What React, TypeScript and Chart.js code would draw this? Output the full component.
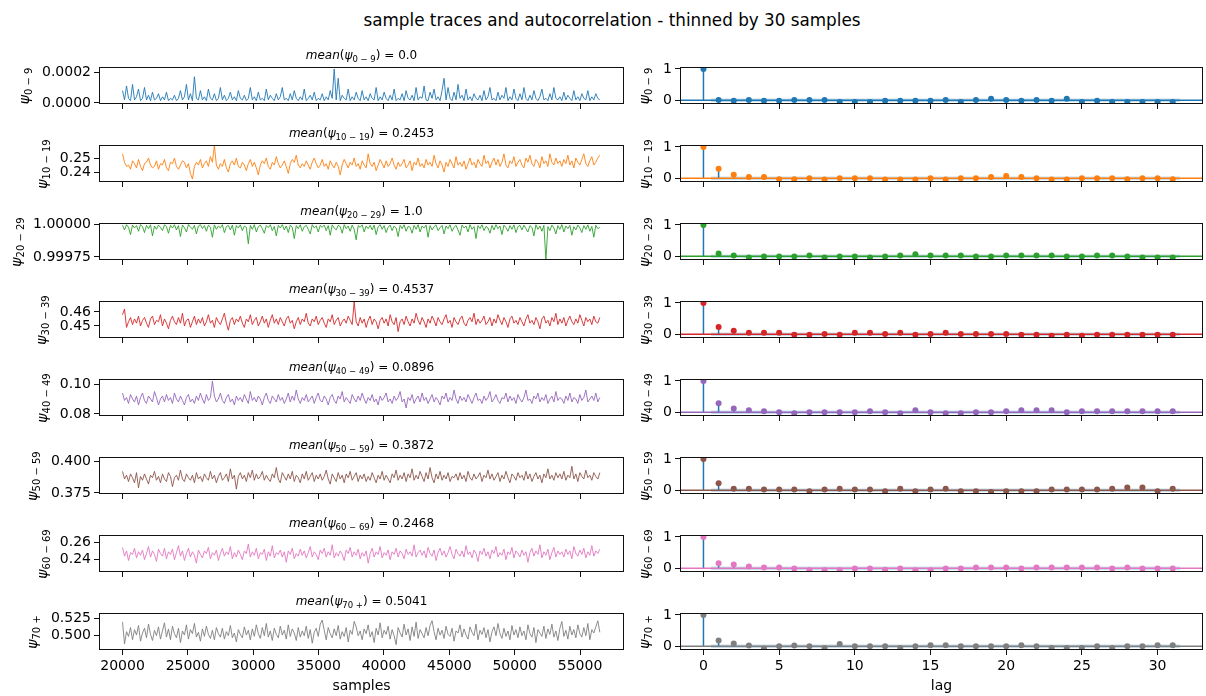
import React, { useEffect, useRef } from "react";
import { Chart, registerables } from "chart.js";

Chart.register(...registerables);

// ---------------- data ----------------
const SAMPLE_FIRST = 20000;
const SAMPLE_LAST = 56510;
const SAMPLE_TICKS = [20000, 25000, 30000, 35000, 40000, 45000, 50000, 55000];
const LAG_TICKS = [0, 5, 10, 15, 20, 25, 30];
const LAGS = [0, 1, 2, 3, 4, 5, 6, 7, 8, 9, 10, 11, 12, 13, 14, 15, 16, 17, 18, 19, 20, 21, 22, 23, 24, 25, 26, 27, 28, 29, 30, 31];

const GROUPS = ["0 − 9", "10 − 19", "20 − 29", "30 − 39", "40 − 49", "50 − 59", "60 − 69", "70 +"];
const MEANS = ["0.0", "0.2453", "1.0", "0.4537", "0.0896", "0.3872", "0.2468", "0.5041"];
const COLORS = ["#1f77b4", "#ff7f0e", "#2ca02c", "#d62728", "#9467bd", "#8c564b", "#e377c2", "#7f7f7f"];
const STEM_COLOR = "#1f77b4";

// trace of psi_{0-9}, in units of 1e-5
const TRACE_0_9_E5 = [
  8, 2, 11, 3, 1.5, 12, 2, 4, 9, 1.5, 3, 10, 2, 5, 1.5, 7, 2, 3, 6, 1.5,
  4, 2, 7, 1.5, 3, 2, 5, 1.5, 3, 8, 2, 4, 12, 2, 6, 1.5, 17, 3, 2, 8,
  2, 4, 1.5, 9, 3, 2, 6, 1.5, 3, 10, 2, 5, 1.5, 3, 7, 2, 4, 1.5, 8, 3,
  2, 5, 1.5, 3, 10, 2, 4, 1.5, 7, 2, 3, 1.5, 9, 2, 5, 3, 1.5, 6, 2, 4,
  10, 2, 3, 1.5, 6, 2, 8, 3, 1.5, 4, 2, 9, 1.5, 3, 5, 2, 7, 1.5, 3, 2,
  6, 1.5, 4, 2, 8, 3, 22, 2, 16, 1.5, 5, 3, 2, 9, 1.5, 4, 2, 7, 3, 1.5,
  8, 2, 4, 1.5, 6, 3, 2, 10, 1.5, 4, 2, 7, 3, 1.5, 5, 2, 9, 1.5, 3, 2,
  6, 1.5, 8, 3, 2, 5, 1.5, 10, 2, 4, 3, 11, 2, 1.5, 7, 3, 9, 2, 4, 1.5,
  8, 16, 2, 10, 3, 1.5, 7, 2, 12, 3, 5, 1.5, 9, 2, 4, 1.5, 6, 3, 2, 5,
  1.5, 8, 2, 4, 10, 2, 3, 1.5, 7, 2, 5, 3, 10, 1.5, 4, 2, 9, 3, 1.5, 6,
  2, 10, 3, 1.5, 5, 2, 8, 3, 1.5, 4, 9, 2, 3, 1.5, 6, 2, 10, 3, 2, 4,
  1.5, 7, 2, 5, 3, 1.5, 8, 2, 4, 1.5, 6, 3, 2, 8, 1.5, 4, 2, 6, 3, 2,
];
const TRACE_10_19 = [
  .253, .247, .244, .245, .242, .248, .246, .243, .249, .244, .241, .246, .247, .250, .245, .243, .244, .248, .242, .246,
  .245, .249, .243, .241, .247, .246, .250, .244, .242, .245, .248, .247, .243, .246, .239, .235, .244, .247, .245, .249,
  .243, .246, .248, .244, .251, .247, .259, .245, .242, .246, .244, .249, .243, .240, .246, .248, .245, .250, .244, .243,
  .247, .245, .241, .246, .249, .244, .247, .243, .238, .245, .248, .246, .250, .244, .242, .247, .245, .251, .246, .243,
  .245, .248, .244, .239, .246, .249, .247, .252, .245, .243, .246, .244, .248, .245, .242, .247, .250, .246, .243, .245,
  .249, .244, .246, .242, .248, .245, .243, .247, .244, .238, .245, .249, .246, .243, .247, .245, .250, .244, .246, .242,
  .248, .245, .243, .253, .246, .244, .247, .241, .245, .249, .246, .243, .248, .244, .246, .250, .245, .242, .247, .244,
  .246, .249, .243, .245, .248, .241, .247, .245, .250, .244, .246, .243, .249, .245, .247, .244, .252, .246, .243, .248,
  .245, .240, .247, .244, .249, .246, .243, .251, .245, .247, .244, .248, .242, .246, .250, .245, .247, .243, .249, .246,
  .244, .252, .246, .248, .243, .247, .250, .245, .249, .244, .247, .253, .245, .243, .248, .246, .251, .244, .247, .249,
  .245, .243, .250, .247, .252, .246, .244, .249, .247, .243, .251, .246, .248, .244, .253, .247, .245, .250, .246, .248,
  .244, .249, .246, .252, .245, .248, .243, .250, .247, .245, .249, .253, .246, .244, .248, .251, .245, .247, .250, .252,
];
// psi_{20-29}: distance below 1.0, in units of 1e-6
const TRACE_20_29_DEFICIT_E6 = [
  10, 45, 5, 25, 80, 8, 30, 12, 55, 4, 20, 65, 10, 35, 6, 90, 15, 40, 8, 25,
  50, 6, 18, 70, 10, 30, 5, 45, 12, 95, 8, 28, 60, 4, 22, 40, 10, 75, 15, 5,
  35, 12, 55, 8, 25, 100, 6, 40, 15, 30, 5, 65, 20, 10, 45, 8, 85, 12, 30, 6,
  50, 15, 25, 150, 10, 40, 5, 60, 20, 8, 35, 70, 12, 28, 6, 50, 18, 90, 10, 30,
  5, 45, 15, 65, 8, 25, 110, 12, 35, 6, 55, 20, 10, 40, 75, 5, 30, 15, 60, 10,
  25, 8, 50, 12, 85, 6, 30, 45, 10, 20, 70, 5, 35, 15, 55, 8, 40, 120, 12, 25,
  6, 60, 15, 35, 10, 45, 8, 80, 20, 5, 40, 12, 65, 25, 8, 50, 15, 30, 95, 10,
  35, 6, 55, 18, 25, 70, 10, 40, 5, 60, 15, 30, 8, 100, 12, 45, 20, 6, 50, 28,
  10, 75, 15, 35, 6, 55, 25, 10, 45, 85, 8, 30, 15, 60, 5, 40, 20, 110, 12, 35,
  6, 50, 18, 30, 70, 10, 45, 5, 35, 15, 80, 8, 28, 55, 12, 40, 6, 65, 20, 10,
  45, 8, 35, 60, 12, 25, 90, 6, 40, 15, 55, 10, 270, 20, 50, 8, 30, 75, 12, 40,
  5, 60, 15, 35, 10, 85, 20, 45, 8, 30, 65, 12, 40, 6, 55, 18, 100, 10, 35, 25,
];
const TRACE_30_39 = [
  .458, .462, .449, .453, .456, .451, .455, .452, .457, .450, .454, .456, .452, .449, .455, .457, .451, .454, .453, .458,
  .450, .455, .452, .448, .454, .457, .453, .451, .456, .452, .459, .450, .454, .455, .449, .453, .457, .451, .455, .452,
  .456, .450, .453, .458, .452, .454, .449, .456, .453, .451, .455, .459, .452, .447, .454, .456, .451, .455, .453, .457,
  .452, .449, .455, .453, .458, .451, .454, .456, .450, .453, .457, .452, .455, .449, .454, .458, .452, .455, .451, .456,
  .453, .450, .455, .457, .452, .454, .448, .453, .456, .451, .455, .453, .459, .452, .450, .455, .453, .457, .451, .454,
  .456, .452, .449, .455, .453, .458, .451, .454, .456, .450, .453, .455, .452, .457, .454, .451, .467, .453, .450, .456,
  .452, .455, .449, .454, .457, .451, .455, .453, .448, .454, .456, .452, .455, .450, .458, .453, .451, .456, .446, .453,
  .455, .451, .457, .453, .450, .455, .452, .459, .454, .451, .456, .453, .449, .455, .452, .457, .454, .450, .456, .453,
  .451, .455, .458, .452, .454, .449, .456, .453, .451, .455, .457, .452, .450, .454, .456, .453, .459, .451, .455, .452,
  .454, .457, .451, .453, .456, .450, .455, .452, .458, .454, .451, .456, .453, .449, .455, .457, .452, .454, .451, .456,
  .453, .450, .455, .458, .452, .454, .451, .456, .453, .448, .455, .457, .452, .454, .450, .456, .453, .459, .451, .455,
  .452, .456, .450, .454, .457, .453, .451, .455, .452, .458, .454, .450, .456, .453, .455, .451, .457, .453, .452, .456,
];
const TRACE_40_49 = [
  .094, .089, .091, .087, .093, .090, .088, .092, .086, .091, .094, .089, .087, .092, .090, .088, .095, .091, .086, .090,
  .092, .088, .093, .089, .091, .087, .094, .090, .088, .092, .089, .086, .091, .093, .088, .090, .087, .092, .089, .094,
  .090, .087, .093, .089, .091, .102, .092, .088, .090, .094, .089, .087, .091, .093, .088, .090, .086, .092, .089, .091,
  .088, .093, .090, .087, .095, .089, .091, .088, .092, .090, .086, .091, .094, .089, .087, .092, .090, .088, .093, .089,
  .091, .087, .090, .094, .088, .092, .089, .096, .090, .087, .091, .089, .093, .088, .090, .092, .087, .091, .094, .089,
  .088, .092, .090, .086, .091, .093, .089, .087, .092, .090, .095, .088, .091, .089, .087, .093, .090, .088, .092, .089,
  .094, .090, .087, .091, .089, .093, .088, .090, .086, .092, .089, .091, .094, .088, .090, .087, .092, .089, .091, .095,
  .088, .090, .084, .091, .089, .093, .087, .090, .092, .088, .094, .089, .091, .087, .090, .093, .088, .091, .089, .086,
  .092, .090, .094, .088, .091, .089, .096, .090, .087, .092, .089, .091, .088, .093, .090, .087, .091, .094, .089, .090,
  .087, .092, .089, .091, .095, .088, .090, .093, .089, .087, .091, .090, .094, .088, .092, .089, .091, .087, .093, .090,
  .088, .091, .096, .089, .090, .087, .092, .090, .094, .088, .091, .089, .093, .087, .090, .092, .088, .095, .089, .091,
  .090, .087, .092, .089, .094, .088, .091, .090, .087, .093, .089, .091, .096, .088, .090, .092, .089, .094, .088, .091,
];
const TRACE_50_59 = [
  .392, .386, .389, .384, .390, .387, .383, .391, .379, .388, .385, .390, .386, .382, .389, .387, .392, .385, .388, .383,
  .390, .386, .384, .391, .388, .380, .387, .389, .385, .393, .386, .384, .390, .387, .385, .389, .383, .391, .386, .388,
  .384, .390, .387, .385, .392, .386, .389, .383, .388, .391, .385, .387, .390, .384, .394, .386, .389, .378, .388, .391,
  .386, .389, .384, .391, .387, .393, .385, .390, .386, .388, .392, .385, .389, .386, .384, .390, .387, .395, .386, .383,
  .391, .388, .385, .390, .386, .392, .384, .389, .387, .383, .390, .386, .392, .385, .388, .391, .384, .389, .386, .390,
  .385, .388, .393, .386, .382, .390, .387, .384, .391, .386, .389, .383, .390, .387, .392, .385, .388, .391, .384, .389,
  .386, .390, .384, .388, .385, .391, .387, .383, .389, .386, .392, .385, .389, .386, .383, .390, .387, .393, .385, .389,
  .386, .391, .384, .390, .387, .394, .385, .389, .386, .392, .388, .384, .391, .386, .395, .387, .383, .390, .386, .392,
  .385, .389, .386, .391, .384, .388, .387, .390, .385, .391, .386, .389, .384, .392, .387, .385, .390, .386, .388, .391,
  .384, .389, .387, .393, .386, .390, .385, .388, .391, .384, .389, .386, .392, .387, .383, .390, .388, .385, .391, .387,
  .389, .385, .392, .386, .390, .384, .388, .391, .386, .389, .383, .390, .387, .394, .386, .389, .385, .391, .387, .390,
  .386, .392, .385, .389, .387, .396, .386, .390, .384, .391, .388, .386, .393, .387, .389, .385, .391, .388, .386, .391,
];
const TRACE_60_69 = [
  .254, .244, .250, .239, .248, .246, .253, .242, .249, .245, .251, .240, .247, .255, .243, .250, .246, .238, .252, .247,
  .244, .253, .241, .249, .246, .252, .240, .248, .256, .244, .250, .239, .247, .253, .243, .249, .245, .236, .251, .246,
  .242, .250, .247, .254, .241, .248, .245, .251, .239, .247, .253, .244, .249, .246, .255, .241, .248, .243, .251, .246,
  .240, .250, .247, .258, .243, .249, .245, .253, .241, .248, .246, .252, .239, .249, .244, .256, .242, .248, .246, .251,
  .243, .249, .237, .250, .246, .253, .241, .247, .244, .252, .245, .250, .242, .248, .255, .243, .249, .246, .240, .251,
  .247, .253, .243, .249, .245, .257, .242, .248, .244, .250, .246, .239, .251, .247, .254, .243, .249, .245, .252, .241,
  .248, .244, .250, .236, .247, .253, .243, .249, .246, .255, .242, .248, .245, .251, .240, .249, .246, .253, .243, .250,
  .247, .241, .252, .246, .249, .244, .257, .243, .248, .251, .245, .250, .242, .254, .247, .244, .251, .239, .248, .253,
  .245, .250, .243, .248, .255, .246, .241, .252, .247, .244, .250, .243, .256, .246, .249, .242, .251, .247, .238, .250,
  .246, .253, .244, .249, .241, .251, .247, .255, .243, .248, .245, .252, .240, .249, .246, .254, .242, .250, .247, .243,
  .251, .245, .249, .237, .248, .253, .244, .250, .246, .257, .242, .249, .245, .252, .240, .248, .254, .243, .250, .246,
  .249, .243, .252, .246, .250, .241, .255, .247, .244, .251, .246, .253, .242, .249, .245, .256, .244, .250, .247, .252,
];
const TRACE_70 = [
  .519, .487, .505, .498, .511, .493, .508, .500, .514, .491, .503, .510, .496, .516, .501, .492, .507, .499, .512, .494,
  .506, .518, .497, .509, .493, .513, .502, .496, .510, .489, .506, .500, .515, .494, .508, .502, .517, .497, .504, .491,
  .509, .498, .513, .501, .495, .507, .493, .511, .502, .497, .510, .494, .505, .499, .514, .496, .503, .490, .508, .501,
  .496, .512, .500, .507, .493, .509, .498, .515, .502, .495, .511, .499, .517, .497, .506, .492, .510, .501, .496, .513,
  .500, .507, .494, .515, .498, .509, .503, .492, .511, .497, .506, .499, .513, .495, .508, .488, .504, .510, .498, .516,
  .522, .507, .493, .511, .502, .496, .509, .499, .514, .494, .505, .498, .511, .490, .507, .501, .520, .512, .499, .506,
  .493, .509, .502, .515, .497, .505, .489, .510, .500, .518, .496, .507, .501, .513, .494, .508, .499, .486, .511, .503,
  .497, .516, .500, .509, .492, .512, .498, .519, .495, .508, .502, .496, .511, .499, .514, .521, .505, .493, .510, .500,
  .507, .495, .513, .501, .498, .510, .491, .506, .503, .515, .497, .509, .500, .494, .512, .504, .499, .516, .493, .507,
  .501, .511, .496, .508, .490, .505, .512, .499, .517, .502, .495, .510, .498, .506, .493, .514, .500, .508, .496, .512,
  .499, .506, .493, .515, .502, .497, .511, .489, .508, .503, .498, .513, .495, .509, .501, .516, .497, .506, .492, .510,
  .520, .498, .507, .494, .513, .500, .508, .496, .515, .502, .497, .511, .499, .517, .493, .508, .503, .512, .521, .504,
];

const ACF_0_9 = [1, 0.01, -0.02, 0.01, -0.02, -0.02, 0.01, 0.01, 0.01, -0.06, -0.06, -0.06, -0.02, -0.02, -0.02, -0.02, 0.01, -0.06, 0.01, 0.05, 0.01, -0.02, 0.01, -0.02, 0.05, -0.06, -0.02, -0.06, -0.06, -0.06, -0.06, -0.06];
const ACF_10_19 = [1, 0.30, 0.11, 0.04, 0.04, -0.03, -0.03, 0, -0.04, 0, 0, 0, -0.04, -0.04, -0.04, 0, -0.04, 0, 0, 0.04, 0.07, 0.04, 0, -0.04, -0.04, 0, 0, 0, -0.03, 0, 0, -0.03];
const ACF_20_29 = [1, 0.09, 0.02, -0.04, -0.01, -0.01, -0.01, 0.02, -0.04, -0.01, -0.01, -0.04, -0.01, 0.02, 0.06, 0.02, 0.02, 0.02, -0.01, -0.01, 0.02, 0.02, 0.02, 0.02, -0.01, -0.01, 0.02, 0.02, -0.01, -0.04, -0.04, -0.04];
const ACF_30_39 = [1, 0.23, 0.11, 0.045, 0.045, 0.045, -0.02, -0.02, 0.01, -0.02, 0.045, 0.045, 0.01, 0.045, -0.02, 0.01, 0.045, 0.01, 0.01, 0.01, 0.01, -0.02, -0.02, -0.05, -0.02, -0.05, -0.02, -0.02, -0.02, -0.02, -0.02, -0.02];
const ACF_40_49 = [1, 0.29, 0.12, 0.065, 0.03, 0, -0.03, 0, 0, 0, 0, 0.03, 0, -0.03, 0.065, 0, -0.03, -0.03, 0, 0, 0.03, 0.065, 0.065, 0.065, 0, 0.03, 0.03, 0.03, 0.03, 0.03, 0.03, 0.03];
const ACF_50_59 = [1, 0.22, 0.05, 0.05, 0.02, 0.02, 0.02, -0.03, 0.02, 0.05, 0.02, 0.02, -0.03, 0.05, -0.03, 0.02, 0.05, -0.03, -0.03, -0.06, -0.03, -0.03, -0.03, 0.02, 0.02, 0.02, 0.02, 0.05, 0.09, 0.09, -0.03, 0.05];
const ACF_60_69 = [1, 0.16, 0.12, 0.055, 0.02, 0.02, -0.01, -0.065, -0.065, -0.065, -0.01, -0.01, -0.045, -0.01, -0.065, -0.065, -0.01, -0.01, 0.02, 0.02, 0.02, -0.01, 0.02, 0.02, 0.02, 0.02, 0.02, -0.01, 0.02, -0.01, -0.01, -0.01];
const ACF_70 = [1, 0.18, 0.09, 0.02, -0.07, 0, 0.02, 0, -0.06, 0.07, 0, 0, 0, -0.06, 0, 0.03, 0.03, 0, 0, 0, 0, 0.03, 0, -0.06, -0.06, -0.06, 0, -0.06, 0, 0, 0.03, 0.03];
const ACF_CONF = 0.058;

const TRACE_Y_TICKS = [
  [0, 0.0002], [0.24, 0.25], [0.99975, 1.0], [0.45, 0.46],
  [0.08, 0.10], [0.375, 0.400], [0.24, 0.26], [0.500, 0.525],
];
const TRACE_Y_TICK_TEXT = [
  ["0.0000", "0.0002"], ["0.24", "0.25"], ["0.99975", "1.00000"], ["0.45", "0.46"],
  ["0.08", "0.10"], ["0.375", "0.400"], ["0.24", "0.26"], ["0.500", "0.525"],
];
const TRACE_Y_RANGE = [
  [-0.0000067, 0.000233], [0.2329, 0.2593], [0.999727, 1.0000078], [0.4415, 0.4677],
  [0.0786, 0.1034], [0.3742, 0.4033], [0.2259, 0.2682], [0.478, 0.5324],
];
const ACF_Y_TICKS = [0, 1];

const TRACES = [
  TRACE_0_9_E5.map((v) => v * 1e-5),
  TRACE_10_19,
  TRACE_20_29_DEFICIT_E6.map((d) => 1 - d * 1e-6),
  TRACE_30_39, TRACE_40_49, TRACE_50_59, TRACE_60_69, TRACE_70,
];
const ACFS = [ACF_0_9, ACF_10_19, ACF_20_29, ACF_30_39, ACF_40_49, ACF_50_59, ACF_60_69, ACF_70];

// ---------------- layout ----------------
const FONT = "'DejaVu Sans', sans-serif";
const ROW_TOPS = [67, 145, 223, 301, 379, 457, 535, 613];
const BOX_H = 37;
const LEFT_BOX = { x: 99, w: 525 };
const RIGHT_BOX = { x: 680, w: 523 };
const Y_AXIS_W = 95;
const PAD_TOP = 12;
const PAD_RIGHT = 12;
const X_AXIS_H = 12;
const X_AXIS_H_BOTTOM = 45;
const TRACE_X_RANGE = [18200, 58360];
const ACF_X_RANGE = [-1.55, 33];
const PSI_LABEL_X_LEFT = [25, 43, 17, 42, 43, 33, 43, 33];
const PSI_LABEL_X_RIGHT = 645;

const framePlugin = {
  id: "frame",
  afterDraw(chart: any) {
    const { ctx, chartArea } = chart;
    const l = Math.round(chartArea.left) + 0.5;
    const t = Math.round(chartArea.top) + 0.5;
    const r = Math.round(chartArea.right) - 0.5;
    const b = Math.round(chartArea.bottom) - 0.5;
    ctx.save();
    ctx.strokeStyle = "#111";
    ctx.lineWidth = 1;
    ctx.strokeRect(l, t, r - l, b - t);
    ctx.restore();
  },
};

function makeScales(
  xRange: number[], xTicks: number[], xTitle: string, bottom: boolean,
  yRange: number[], yTicks: number[], yText: string[]
) {
  const grid = { display: true, drawOnChartArea: false, drawTicks: true, tickLength: 5, color: "#111", lineWidth: 1 };
  return {
    x: {
      type: "linear",
      min: xRange[0],
      max: xRange[1],
      afterBuildTicks: (s: any) => { s.ticks = xTicks.map((v) => ({ value: v })); },
      afterFit: (s: any) => { s.height = bottom ? X_AXIS_H_BOTTOM : X_AXIS_H; },
      ticks: {
        display: bottom, autoSkip: false, maxRotation: 0, minRotation: 0, padding: 3,
        color: "#000", font: { family: FONT, size: 14 },
        callback: (v: any) => String(v),
      },
      grid,
      border: { display: false },
      title: {
        display: bottom, text: xTitle, color: "#000",
        font: { family: FONT, size: 14 }, padding: { top: 0, bottom: 0 },
      },
    },
    y: {
      type: "linear",
      min: yRange[0],
      max: yRange[1],
      afterBuildTicks: (s: any) => { s.ticks = yTicks.map((v) => ({ value: v })); },
      afterFit: (s: any) => { s.width = Y_AXIS_W; },
      ticks: {
        autoSkip: false, padding: 3, color: "#000", font: { family: FONT, size: 14 },
        callback: (_v: any, i: number) => yText[i],
      },
      grid,
      border: { display: false },
    },
  };
}

function baseOptions(scales: any) {
  return {
    animation: false,
    responsive: false,
    maintainAspectRatio: false,
    events: [],
    layout: { padding: { top: PAD_TOP, right: PAD_RIGHT, left: 0, bottom: 0 } },
    plugins: { legend: { display: false }, tooltip: { enabled: false }, title: { display: false } },
    scales,
  };
}

function traceChart(canvas: HTMLCanvasElement, r: number) {
  const vals = TRACES[r];
  const n = vals.length;
  const pts = vals.map((y, i) => ({ x: SAMPLE_FIRST + (i * (SAMPLE_LAST - SAMPLE_FIRST)) / (n - 1), y }));
  const bottom = r === 7;
  return new Chart(canvas, {
    type: "line",
    data: {
      datasets: [{
        data: pts, borderColor: COLORS[r], borderWidth: 0.9, pointRadius: 0, tension: 0, fill: false,
      }],
    },
    options: baseOptions(
      makeScales(TRACE_X_RANGE, SAMPLE_TICKS, "samples", bottom, TRACE_Y_RANGE[r], TRACE_Y_TICKS[r], TRACE_Y_TICK_TEXT[r])
    ),
    plugins: [framePlugin],
  } as any);
}

function acfChart(canvas: HTMLCanvasElement, r: number) {
  const acf = ACFS[r];
  const bottom = r === 7;
  const markers = LAGS.map((lag) => ({ x: lag, y: acf[lag] }));
  const stems: any[] = [];
  LAGS.forEach((lag) => {
    stems.push({ x: lag, y: 0 }, { x: lag, y: acf[lag] }, { x: lag, y: null });
  });
  const first = LAGS[1] - 0.5;
  const last = LAGS[LAGS.length - 1] + 0.5;
  return new Chart(canvas, {
    type: "line",
    data: {
      datasets: [
        { data: markers, showLine: false, pointRadius: 3, pointBorderWidth: 0, pointBackgroundColor: COLORS[r], backgroundColor: COLORS[r], borderColor: COLORS[r] },
        { data: [{ x: ACF_X_RANGE[0], y: 0 }, { x: ACF_X_RANGE[1], y: 0 }], borderColor: COLORS[r], borderWidth: 1.5, pointRadius: 0 },
        { data: stems, borderColor: STEM_COLOR, borderWidth: 1.5, pointRadius: 0, spanGaps: false },
        { data: [{ x: first, y: ACF_CONF }, { x: last, y: ACF_CONF }], borderWidth: 0, pointRadius: 0, borderColor: "rgba(0,0,0,0)" },
        { data: [{ x: first, y: -ACF_CONF }, { x: last, y: -ACF_CONF }], borderWidth: 0, pointRadius: 0, borderColor: "rgba(0,0,0,0)", fill: "-1", backgroundColor: "rgba(31,119,180,0.25)" },
      ],
    },
    options: baseOptions(
      makeScales(ACF_X_RANGE, LAG_TICKS, "lag", bottom, [-0.12, 1.06], ACF_Y_TICKS, ["0", "1"])
    ),
    plugins: [framePlugin],
  } as any);
}

function canvasBox(r: number, box: { x: number; w: number }) {
  const bottom = r === 7;
  return {
    left: box.x - Y_AXIS_W,
    top: ROW_TOPS[r] - PAD_TOP,
    width: Y_AXIS_W + box.w + PAD_RIGHT,
    height: PAD_TOP + BOX_H + (bottom ? X_AXIS_H_BOTTOM : X_AXIS_H),
  };
}

function PsiLabel({ group, cx, cy }: { group: string; cx: number; cy: number }) {
  return (
    <div
      style={{
        position: "absolute", left: cx, top: cy, transform: "translate(-50%, -50%) rotate(-90deg)",
        whiteSpace: "nowrap", fontFamily: FONT, fontSize: 14, lineHeight: "16px", color: "#000",
      }}
    >
      <i>ψ</i>
      <span style={{ fontSize: 10, position: "relative", top: 3 }}>{group}</span>
    </div>
  );
}

export default function App() {
  const refs = useRef<(HTMLCanvasElement | null)[]>([]);

  useEffect(() => {
    const prevMargin = document.body.style.margin;
    document.body.style.margin = "0";
    const charts: Chart[] = [];
    for (let r = 0; r < 8; r++) {
      const a = refs.current[2 * r];
      const b = refs.current[2 * r + 1];
      if (a) charts.push(traceChart(a, r));
      if (b) charts.push(acfChart(b, r));
    }
    return () => {
      charts.forEach((c) => c.destroy());
      document.body.style.margin = prevMargin;
    };
  }, []);

  const canvases: React.ReactNode[] = [];
  const labels: React.ReactNode[] = [];
  for (let r = 0; r < 8; r++) {
    const lb = canvasBox(r, LEFT_BOX);
    const rb = canvasBox(r, RIGHT_BOX);
    canvases.push(
      <canvas key={`t${r}`} ref={(el) => { refs.current[2 * r] = el; }} width={lb.width} height={lb.height}
        style={{ position: "absolute", left: lb.left, top: lb.top, width: lb.width, height: lb.height }} />,
      <canvas key={`a${r}`} ref={(el) => { refs.current[2 * r + 1] = el; }} width={rb.width} height={rb.height}
        style={{ position: "absolute", left: rb.left, top: rb.top, width: rb.width, height: rb.height }} />
    );
    const cy = ROW_TOPS[r] + BOX_H / 2;
    labels.push(
      <div key={`m${r}`}
        style={{
          position: "absolute", left: LEFT_BOX.x, width: LEFT_BOX.w, top: ROW_TOPS[r] - 20, height: 16,
          lineHeight: "16px", textAlign: "center", fontFamily: FONT, fontSize: 12, color: "#000", whiteSpace: "nowrap",
        }}
      >
        <i>mean</i>(<i>ψ</i>
        <span style={{ fontSize: 8.5, position: "relative", top: 3 }}>{GROUPS[r]}</span>) = {MEANS[r]}
      </div>,
      <PsiLabel key={`pl${r}`} group={GROUPS[r]} cx={PSI_LABEL_X_LEFT[r]} cy={cy} />,
      <PsiLabel key={`pr${r}`} group={GROUPS[r]} cx={PSI_LABEL_X_RIGHT} cy={cy} />
    );
  }

  return (
    <div style={{ position: "absolute", left: 0, top: 0, width: 1206, height: 696, overflow: "hidden", background: "#fff" }}>
      <div
        style={{
          position: "absolute", left: 9, width: 1206, top: 9, height: 22, lineHeight: "22px",
          textAlign: "center", fontFamily: FONT, fontSize: 16.8, color: "#000", whiteSpace: "nowrap",
        }}
      >
        sample traces and autocorrelation - thinned by 30 samples
      </div>
      {canvases}
      {labels}
    </div>
  );
}
